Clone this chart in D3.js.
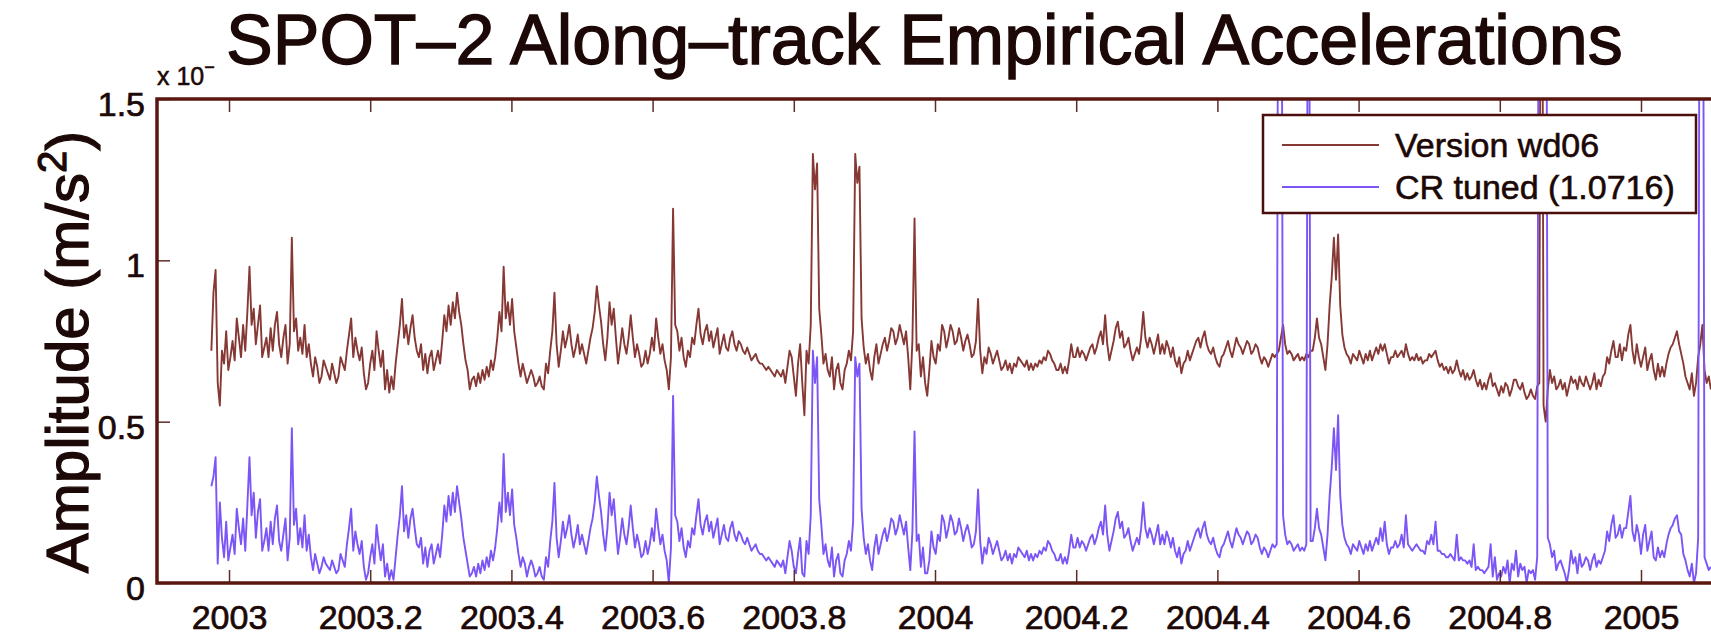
<!DOCTYPE html>
<html>
<head>
<meta charset="utf-8">
<script src="https://cdnjs.cloudflare.com/ajax/libs/d3/7.8.5/d3.min.js"></script>
<style>
  body { margin: 0; background: #fff; }
  text { font-family: "Liberation Sans", Arial, Helvetica, sans-serif; fill: #1c0806; stroke: #1c0806; }
</style>
</head>
<body>
<svg id="accelChart" width="1711" height="637"></svg>
<script>
/* ******************** data ******************************************* */
// one sample every 0.003 yr (about 1.1 day), first sample at startYear
var startYear = 2002.975, stepYear = 0.003;

// Version wd06 (units of 1e-7 m/s^2)
var wd06Values = [
  .72,.90,.97,.62,.55,.72,.68,.78,.66,.70,.75,.69,.82,.76,.70,.80,.72,.84,.98,.80,.85,.74,.80,.86,.70,.73,.76,.70,.79,.72,.80,.84,.74,.70,.76,.80,.68,.74,1.07,.78,
  .82,.72,.76,.71,.80,.70,.74,.68,.64,.70,.67,.62,.64,.69,.67,.65,.63,.68,.65,.62,.64,.70,.68,.66,.72,.77,.82,.70,.76,.72,.69,.73,.65,.60,.62,.68,.72,.66,.78,.72,
  .67,.72,.60,.66,.59,.64,.60,.68,.74,.80,.88,.76,.80,.74,.79,.83,.76,.72,.70,.74,.66,.71,.65,.70,.72,.66,.69,.72,.68,.75,.83,.78,.86,.80,.87,.82,.90,.84,.80,.74,
  .69,.66,.60,.63,.64,.61,.65,.62,.66,.63,.67,.64,.69,.66,.70,.76,.84,.78,.98,.82,.87,.80,.88,.78,.73,.68,.64,.68,.65,.62,.64,.66,.64,.61,.62,.64,.61,.60,.68,.65,
  .72,.78,.90,.74,.67,.72,.78,.73,.76,.80,.74,.70,.73,.77,.71,.74,.71,.68,.72,.76,.79,.84,.92,.86,.81,.74,.69,.76,.87,.80,.85,.76,.68,.73,.79,.74,.71,.76,.83,.76,
  .70,.74,.71,.67,.68,.72,.68,.71,.76,.72,.82,.76,.71,.74,.69,.66,.60,.70,1.16,.80,.78,.72,.76,.70,.67,.72,.70,.76,.74,.80,.85,.77,.74,.78,.80,.75,.78,.73,.76,.79,
  .71,.74,.77,.73,.72,.76,.78,.74,.72,.75,.74,.72,.71,.73,.71,.69,.70,.71,.69,.68,.68,.67,.66,.67,.66,.65,.64,.66,.65,.64,.66,.62,.67,.72,.70,.64,.58,.68,.74,.62,
  .52,.72,.68,.80,1.33,1.22,1.30,.85,.77,.68,.71,.66,.64,.70,.60,.66,.68,.62,.60,.66,.68,.72,.69,.78,1.33,1.24,1.29,.82,.73,.68,.71,.66,.63,.70,.74,.68,.71,.74,.76,.72,
  .75,.79,.78,.74,.76,.80,.77,.74,.78,.70,.60,.75,1.13,.72,.74,.64,.70,.62,.58,.66,.75,.70,.68,.74,.72,.80,.78,.73,.76,.80,.78,.74,.75,.79,.76,.72,.75,.77,.74,.70,
  .71,.75,.88,.72,.65,.70,.68,.73,.71,.68,.70,.72,.69,.66,.67,.69,.66,.68,.65,.68,.67,.70,.69,.68,.67,.69,.66,.68,.66,.68,.67,.69,.68,.70,.69,.72,.71,.69,.68,.66,
  .66,.68,.65,.67,.65,.69,.74,.70,.70,.73,.70,.72,.71,.69,.71,.73,.74,.71,.73,.76,.78,.74,.83,.74,.69,.72,.75,.79,.81,.76,.78,.73,.74,.76,.72,.69,.71,.73,.71,.76,
  .84,.76,.73,.76,.74,.71,.74,.77,.71,.74,.71,.75,.73,.70,.73,.69,.67,.70,.65,.68,.69,.72,.69,.71,.73,.75,.76,.73,.76,.78,.74,.72,.71,.73,.70,.68,.67,.70,.71,.73,
  .75,.72,.70,.73,.76,.74,.73,.71,.73,.75,.74,.71,.72,.74,.73,.70,.68,.70,.69,.67,.69,.71,.70,.71,.72,.76,.80,.74,.71,.72,.71,.69,.70,.71,.69,.70,.69,.71,.70,.72,
  .72,.76,.82,.76,.74,.70,.66,.74,.86,.95,1.07,.94,1.08,.86,.77,.73,.71,.70,.68,.71,.70,.69,.72,.70,.68,.71,.69,.72,.69,.71,.73,.71,.74,.72,.74,.71,.68,.70,.70,.72,
  .70,.71,.72,.70,.74,.71,.69,.70,.69,.71,.69,.70,.68,.69,.69,.71,.70,.71,.72,.69,.67,.68,.66,.67,.65,.67,.65,.66,.69,.66,.64,.66,.63,.65,.63,.64,.66,.63,.61,.63,
  .60,.62,.60,.63,.65,.61,.62,.60,.58,.61,.59,.62,.61,.58,.60,.63,.63,.61,.60,.62,.59,.57,.58,.60,.58,.57,.61,.62,3.0,.55,.50,.60,.66,.62,.64,.60,.61,.63,.60,.62,
  .58,.61,.64,.62,.63,.60,.64,.62,.61,.64,.62,.60,.62,.65,.60,.63,.61,.64,.65,.70,.68,.72,.75,.70,.70,.74,.69,.73,.72,.77,.80,.72,.68,.74,.70,.67,.70,.73,.66,.69,
  .71,.66,.63,.68,.64,.67,.64,.68,.71,.73,.74,.76,.78,.74,.71,.68,.64,.62,.60,.65,.58,.62,.70,.74,.80,.66,.62,.64,.60
];

// CR tuned (1.0716), same sampling
var crTunedValues = [
  .30,.33,.39,.06,.25,.14,.08,.19,.07,.11,.15,.09,.23,.17,.12,.20,.10,.24,.39,.21,.28,.14,.22,.26,.10,.13,.17,.10,.19,.12,.20,.24,.13,.10,.15,.20,.07,.14,.48,.18,
  .23,.12,.17,.11,.21,.10,.15,.08,.04,.09,.06,.03,.05,.08,.06,.05,.04,.07,.05,.03,.04,.09,.07,.05,.12,.17,.23,.10,.16,.12,.09,.13,.05,.01,.03,.08,.12,.06,.18,.12,
  .07,.12,.02,.06,.01,.04,.01,.08,.15,.21,.30,.16,.21,.14,.20,.23,.17,.12,.11,.14,.06,.11,.05,.10,.12,.06,.09,.12,.08,.15,.24,.19,.27,.21,.28,.22,.30,.25,.20,.14,
  .10,.06,.02,.03,.05,.02,.06,.03,.07,.04,.08,.05,.10,.07,.11,.17,.25,.19,.40,.22,.28,.21,.29,.18,.14,.09,.05,.08,.06,.02,.05,.07,.05,.02,.03,.05,.02,.01,.08,.05,
  .13,.19,.31,.14,.08,.13,.19,.14,.17,.21,.15,.11,.14,.18,.12,.15,.12,.09,.13,.17,.20,.25,.33,.27,.22,.15,.10,.17,.28,.21,.26,.17,.09,.14,.20,.15,.12,.17,.24,.17,
  .11,.15,.12,.08,.09,.13,.09,.12,.17,.13,.23,.17,.12,.15,.10,.07,.00,.11,.58,.21,.19,.13,.17,.11,.08,.13,.11,.17,.15,.21,.26,.18,.15,.19,.21,.16,.19,.14,.17,.20,
  .12,.15,.18,.14,.13,.17,.19,.15,.13,.16,.15,.13,.12,.14,.12,.10,.11,.12,.10,.09,.09,.08,.07,.08,.07,.06,.05,.07,.06,.05,.07,.03,.08,.13,.10,.05,.03,.09,.14,.03,
  .02,.13,.09,.21,.72,.62,.70,.26,.18,.09,.12,.07,.05,.11,.02,.07,.09,.03,.02,.07,.09,.13,.10,.19,.70,.64,.68,.23,.14,.09,.12,.07,.04,.11,.15,.09,.12,.15,.17,.13,
  .16,.20,.19,.15,.17,.21,.18,.15,.19,.11,.04,.16,.47,.13,.15,.05,.11,.03,.03,.07,.16,.11,.09,.15,.13,.21,.19,.14,.17,.21,.19,.15,.16,.20,.17,.13,.16,.18,.15,.11,
  .12,.16,.29,.13,.06,.11,.09,.14,.12,.09,.11,.13,.10,.07,.08,.10,.07,.09,.06,.09,.08,.11,.10,.09,.08,.10,.07,.09,.07,.09,.08,.10,.09,.11,.10,.13,.12,.10,.09,.07,
  .07,.09,.06,.08,.06,.10,.15,.11,.11,.14,.11,.13,.12,.10,.12,.14,.15,.12,.14,.17,.19,.15,.24,.15,.10,.13,.16,.20,.22,.17,.19,.14,.15,.17,.13,.10,.12,.14,.12,.17,
  .25,.17,.14,.17,.15,.12,.15,.18,.12,.15,.12,.16,.14,.11,.14,.10,.08,.11,.06,.09,.10,.13,.10,.12,.14,.16,.17,.14,.17,.19,.15,.13,.12,.14,.11,.09,.08,.11,.12,.14,
  .16,.13,.11,.14,.17,.15,.14,.12,.14,.16,.15,.12,.13,.15,.14,.11,.09,.11,.10,.08,.10,.12,.11,.12,3.0,3.0,.21,.15,.12,.13,.12,.10,.11,.12,.10,.11,.10,.12,3.0,.13,
  .13,.17,.23,.17,.15,.11,.07,.15,.27,.36,.48,.35,.52,.27,.18,.14,.12,.11,.09,.12,.11,.10,.13,.11,.09,.12,.10,.13,.10,.12,.14,.12,.17,.13,.19,.12,.09,.11,.11,.13,
  .11,.12,.15,.11,.21,.12,.11,.10,.11,.12,.11,.10,.10,.09,.13,.12,.15,.12,.19,.10,.10,.09,.09,.08,.08,.09,.08,.07,.15,.07,.08,.07,.07,.06,.07,.05,.12,.04,.05,.04,
  .04,.03,.04,.05,.12,.02,.08,.01,.03,.02,.05,.03,.07,.00,.06,.04,.10,.02,.06,.04,.05,.00,.04,.03,.04,.01,.08,3.0,3.0,3.0,3.0,.14,.12,.08,.10,.04,.06,.07,.05,.03,
  .00,.04,.10,.06,.08,.03,.09,.05,.06,.08,.07,.04,.07,.09,.05,.07,.06,.08,.10,.16,.13,.18,.21,.14,.15,.18,.14,.17,.17,.22,.27,.16,.13,.18,.15,.09,.15,.18,.10,.13,
  .16,.08,.07,.11,.08,.10,.08,.12,.15,.17,.18,.20,.21,.16,.15,.09,.07,.04,.02,.06,.00,.03,.14,3.0,3.0,.08,.06,.04,.05
];

var seriesNames  = ["Version wd06", "CR tuned (1.0716)"];
var seriesColors = ["#863834", "#7b55f6"];

var xTickValues = [2003, 2003.2, 2003.4, 2003.6, 2003.8, 2004, 2004.2, 2004.4, 2004.6, 2004.8, 2005];
var xTickLabels = ["2003", "2003.2", "2003.4", "2003.6", "2003.8", "2004", "2004.2", "2004.4", "2004.6", "2004.8", "2005"];
var yTickValues = [0, 0.5, 1, 1.5];
var yTickLabels = ["0", "0.5", "1", "1.5"];

/* ******************** chart settings ************************* */
var svg = d3.select("#accelChart"),
    plotLeft = 157, plotRight = 1713, plotTop = 99, plotBottom = 583,
    frameColor = "#5a1710", tickColor = "#5e2c27";

var xScale = d3.scaleLinear().domain([2002.898, 2005.102]).range([plotLeft, plotRight]);
var yScale = d3.scaleLinear().domain([0, 1.5]).range([plotBottom, plotTop]);

// sample times
var nSamples = Math.max(wd06Values.length, crTunedValues.length);
var years = d3.range(nSamples).map(function(i) { return startYear + i * stepYear; });

var drawLine = d3.line()
    .x(function(d, i) { return xScale(years[i]); })
    .y(function(d) { return yScale(d); });

// clip spikes at the frame
svg.append("clipPath")
   .attr("id", "plotClip")
   .append("rect")
   .attr("x", plotLeft).attr("y", plotTop)
   .attr("width", plotRight - plotLeft).attr("height", plotBottom - plotTop);

var plotArea = svg.append("g").attr("clip-path", "url(#plotClip)");

[wd06Values, crTunedValues].forEach(function(values, k) {
  plotArea.append("path")
    .datum(values)
    .attr("fill", "none")
    .attr("stroke", seriesColors[k])
    .attr("stroke-width", 1.9)
    .attr("stroke-linejoin", "round")
    .attr("d", drawLine);
});

/* ******************** axes ************************* */
var xAxisBottom = d3.axisBottom(xScale)
    .tickValues(xTickValues)
    .tickFormat(function(d, i) { return xTickLabels[i]; })
    .tickSizeInner(-13).tickSizeOuter(0);

var gx = svg.append("g")
   .attr("transform", "translate(0," + plotBottom + ")")
   .call(xAxisBottom);
gx.select(".domain").remove();
gx.selectAll("line").attr("stroke", tickColor).attr("stroke-width", 1.5);
gx.selectAll("text")
  .attr("y", 46).attr("dy", 0)
  .attr("font-size", 34)
  .attr("fill", "#1c0806")
  .attr("stroke-width", 0.7);

var gxTop = svg.append("g")
   .attr("transform", "translate(0," + plotTop + ")")
   .call(d3.axisTop(xScale).tickValues(xTickValues).tickSizeInner(-13).tickSizeOuter(0).tickFormat(""));
gxTop.select(".domain").remove();
gxTop.selectAll("line").attr("stroke", tickColor).attr("stroke-width", 1.5);

var gy = svg.append("g")
   .attr("transform", "translate(" + plotLeft + ",0)")
   .call(d3.axisLeft(yScale)
     .tickValues(yTickValues)
     .tickFormat(function(d, i) { return yTickLabels[i]; })
     .tickSizeInner(-13).tickSizeOuter(0));
gy.select(".domain").remove();
gy.selectAll("line").attr("stroke", tickColor).attr("stroke-width", 1.5);
gy.selectAll("text")
  .attr("x", -12).attr("y", 16.5).attr("dy", 0)
  .attr("font-size", 34)
  .attr("fill", "#1c0806")
  .attr("stroke-width", 0.7);

// frame
svg.append("rect")
   .attr("x", plotLeft).attr("y", plotTop)
   .attr("width", plotRight - plotLeft).attr("height", plotBottom - plotTop)
   .attr("fill", "none")
   .attr("stroke", frameColor)
   .attr("stroke-width", 3.5);

/* ******************** labels ************************* */
var scaleText = svg.append("text")
   .attr("x", plotLeft)
   .attr("y", 85)
   .attr("font-size", 25)
   .attr("stroke-width", 0.5);
scaleText.append("tspan").text("x 10");
scaleText.append("tspan").attr("dy", -12).attr("font-size", 18).text("\u2212");

svg.append("text")
   .attr("x", 226)
   .attr("y", 64)
   .attr("font-size", 70)
   .attr("stroke-width", 1.3)
   .text("SPOT\u20132 Along\u2013track Empirical Accelerations");

var yLabel = svg.append("text")
   .attr("transform", "translate(88,352) rotate(-90)")
   .attr("text-anchor", "middle")
   .attr("font-size", 60)
   .attr("stroke-width", 1.2);
yLabel.append("tspan").text("Amplitude (m/s");
yLabel.append("tspan").attr("dy", -22).attr("font-size", 40).text("2");
yLabel.append("tspan").attr("dy", 22).text(")");

/* ******************** legend ************************* */
var legend = svg.append("g");
legend.append("rect")
   .attr("x", 1263).attr("y", 115)
   .attr("width", 433).attr("height", 98)
   .attr("fill", "#fff")
   .attr("stroke", "#4a0f0a")
   .attr("stroke-width", 2.5);

seriesNames.forEach(function(name, k) {
  var rowY = 145 + k * 42;
  legend.append("line")
     .attr("x1", 1282).attr("x2", 1379)
     .attr("y1", rowY).attr("y2", rowY)
     .attr("stroke", seriesColors[k])
     .attr("stroke-width", 2);
  legend.append("text")
     .attr("x", 1395).attr("y", rowY + 12)
     .attr("font-size", 34)
     .attr("stroke-width", 0.6)
     .text(name);
});
</script>
</body>
</html>
